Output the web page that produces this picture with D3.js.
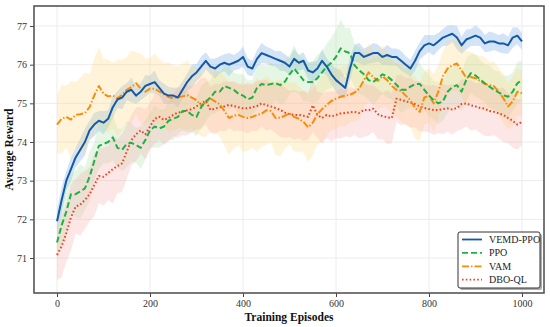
<!DOCTYPE html>
<html><head><meta charset="utf-8">
<script src="https://cdn.jsdelivr.net/npm/d3@7/dist/d3.min.js"></script>
<style>body{margin:0;background:#fff}svg{display:block}</style>
</head><body>
<svg id="c" width="550" height="327"></svg>
<script>
const episodes = d3.range(0, 1001, 10);
const xTicks = [0, 200, 400, 600, 800, 1000];
const yTicks = [71, 72, 73, 74, 75, 76, 77];
const seriesNames = ["VEMD-PPO", "PPO", "VAM", "DBO-QL"];

const vemdPPO = [71.95,72.5,73.0,73.3,73.6,73.8,74.0,74.3,74.45,74.55,74.5,74.6,74.9,75.1,75.15,75.3,75.35,75.2,75.3,75.45,
75.5,75.55,75.4,75.25,75.2,75.2,75.15,75.35,75.55,75.7,75.8,75.95,76.1,75.95,75.9,76.0,76.05,76.0,76.05,76.1,
76.2,75.95,75.9,76.15,76.3,76.25,76.2,76.15,76.1,76.05,75.95,76.15,76.05,76.1,75.85,75.8,75.9,76.1,75.95,75.75,
75.6,75.5,75.4,75.9,76.3,76.3,76.2,76.25,76.3,76.3,76.2,76.25,76.2,76.2,76.1,76.0,75.9,76.1,76.35,76.5,
76.55,76.5,76.6,76.7,76.75,76.8,76.7,76.5,76.65,76.7,76.75,76.7,76.55,76.6,76.6,76.55,76.55,76.5,76.7,76.75,76.6];
const ppo = [71.4,71.85,72.2,72.65,72.65,72.72,72.8,73.1,73.5,73.9,73.95,74.0,74.12,73.85,73.8,73.95,73.98,73.92,73.85,74.05,
74.3,74.4,74.35,74.4,74.55,74.6,74.65,74.8,74.8,74.7,74.65,74.9,75.05,75.15,75.3,75.3,75.45,75.4,75.35,75.25,
75.2,75.1,75.15,75.4,75.5,75.47,75.5,75.52,75.47,75.56,75.75,75.9,75.75,75.6,75.55,75.55,75.65,75.8,75.95,76.05,
76.2,76.42,76.34,76.3,75.98,75.85,75.75,75.6,75.55,75.65,75.75,75.7,75.6,75.48,75.35,75.35,75.43,75.5,75.5,75.35,
75.2,75.08,75.0,75.05,75.3,75.42,75.47,75.3,75.6,75.78,75.72,75.62,75.52,75.43,75.35,75.28,75.21,75.17,75.3,75.52,75.6];
const vam = [74.45,74.6,74.65,74.58,74.7,74.72,74.75,74.9,75.2,75.45,75.25,75.18,75.2,75.13,75.22,75.35,75.42,75.52,75.38,75.3,
75.38,75.38,75.3,75.24,75.16,75.13,75.16,75.18,75.21,75.15,75.08,74.95,75.03,75.12,75.05,74.98,74.8,74.62,74.68,74.7,
74.65,74.62,74.65,74.7,74.73,74.82,74.8,74.62,74.63,74.68,74.74,74.65,74.6,74.52,74.38,74.5,74.72,74.85,74.96,75.06,
75.12,75.17,75.2,75.22,75.28,75.38,75.6,75.8,75.68,75.58,75.7,75.6,75.45,75.35,75.32,75.2,75.08,74.88,74.78,75.15,
75.2,75.0,75.3,75.7,75.9,75.98,76.03,75.85,75.66,75.68,75.65,75.58,75.5,75.47,75.44,75.3,75.13,74.92,75.05,75.3,75.26];
const dboQL = [71.08,71.3,71.65,72.05,72.33,72.38,72.5,72.65,72.88,73.12,73.1,73.2,73.3,73.38,73.45,73.75,74.05,74.2,74.3,74.2,
74.4,74.6,74.65,74.57,74.62,74.7,74.76,74.78,74.82,74.85,74.92,75.0,75.06,74.83,74.86,74.9,74.92,74.96,74.93,74.9,
74.87,74.87,74.9,74.93,75.0,74.95,74.92,74.88,74.83,74.76,74.72,74.7,74.7,74.68,74.65,74.95,74.7,74.62,74.7,74.66,
74.7,74.74,74.75,74.77,74.78,74.75,74.83,74.82,74.86,74.72,74.67,74.64,74.62,75.12,75.09,75.05,75.02,74.98,74.92,74.88,
74.85,74.83,74.83,74.85,74.87,74.84,74.88,74.98,75.0,74.95,74.92,74.88,74.86,74.8,74.78,74.74,74.7,74.62,74.55,74.45,74.52];

// half-width of the light noise band around each curve
const vemdSpread = [0.3,0.35,0.25,0.3,0.25,0.3,0.35,0.25,0.3,0.25,0.3,0.22,0.28,0.22,0.3,0.22,0.32,0.22,0.22,0.28,
0.22,0.3,0.2,0.26,0.22,0.2,0.26,0.22,0.22,0.3,0.22,0.26,0.22,0.2,0.26,0.22,0.22,0.3,0.2,0.22,
0.26,0.22,0.2,0.22,0.26,0.22,0.22,0.2,0.26,0.22,0.22,0.26,0.2,0.22,0.22,0.26,0.22,0.3,0.22,0.26,
0.3,0.35,0.26,0.3,0.22,0.26,0.22,0.22,0.26,0.22,0.2,0.26,0.22,0.22,0.26,0.22,0.22,0.26,0.22,0.26,
0.22,0.26,0.22,0.22,0.26,0.22,0.3,0.22,0.26,0.22,0.26,0.22,0.22,0.26,0.22,0.22,0.26,0.22,0.26,0.22,0.22];
const ppoSpread = [0.4,0.5,0.65,0.5,0.6,0.7,0.55,0.65,0.5,0.6,0.5,0.55,0.6,0.5,0.55,0.6,0.5,0.45,0.55,0.5,
0.45,0.55,0.5,0.45,0.5,0.55,0.45,0.5,0.55,0.45,0.5,0.55,0.5,0.45,0.55,0.5,0.5,0.55,0.45,0.5,
0.55,0.5,0.45,0.55,0.5,0.5,0.55,0.45,0.5,0.55,0.5,0.6,0.5,0.55,0.5,0.55,0.6,0.55,0.6,0.65,
0.7,0.75,0.6,0.65,0.55,0.6,0.55,0.5,0.6,0.55,0.5,0.55,0.5,0.55,0.6,0.5,0.55,0.5,0.55,0.5,
0.55,0.5,0.55,0.5,0.55,0.5,0.55,0.5,0.55,0.5,0.55,0.5,0.5,0.55,0.5,0.55,0.5,0.55,0.5,0.55,0.5];
const vamSpread = [0.75,0.9,0.8,1.0,0.85,0.95,1.05,0.85,0.95,1.0,0.9,0.95,0.85,1.0,0.9,0.85,0.95,0.8,0.9,0.85,
0.8,0.9,0.85,0.8,0.9,0.85,0.8,0.85,0.9,0.8,0.85,0.8,0.9,0.85,0.8,0.85,0.9,0.95,0.85,0.8,
0.9,0.85,0.8,0.95,0.85,0.9,0.8,0.95,1.0,0.85,0.8,0.9,0.85,0.8,0.9,0.85,0.8,0.85,0.8,0.75,
0.8,0.75,0.8,0.7,0.75,0.8,0.7,0.75,0.7,0.75,0.8,0.7,0.75,0.7,0.8,0.75,0.7,0.8,0.75,0.7,
0.7,0.75,0.7,0.65,0.7,0.65,0.7,0.65,0.7,0.65,0.6,0.65,0.7,0.6,0.65,0.6,0.65,0.6,0.65,0.6,0.6];
const dboSpread = [0.65,0.8,0.75,0.85,0.7,0.8,0.75,0.7,0.8,0.7,0.75,0.7,0.9,0.7,0.75,0.7,0.65,0.7,0.6,0.65,
0.6,0.65,0.6,0.65,0.6,0.55,0.65,0.6,0.65,0.6,0.6,0.65,0.6,0.6,0.65,0.6,0.65,0.6,0.65,0.6,
0.6,0.65,0.6,0.65,0.6,0.65,0.6,0.65,0.7,0.65,0.6,0.65,0.6,0.65,0.6,0.7,0.6,0.65,0.6,0.65,
0.6,0.65,0.6,0.65,0.6,0.65,0.7,0.65,0.6,0.65,0.6,0.7,0.65,0.6,0.65,0.6,0.65,0.6,0.65,0.6,
0.6,0.65,0.6,0.65,0.6,0.65,0.6,0.65,0.6,0.65,0.6,0.65,0.7,0.65,0.6,0.65,0.7,0.65,0.7,0.65,0.6];

const series = [
  {name: seriesNames[0], vals: vemdPPO, spread: vemdSpread, color: "#1459a6", band: "#8fbce6", bandOp: 0.4, dash: null},
  {name: seriesNames[1], vals: ppo, spread: ppoSpread, color: "#1fb143", band: "#a6e0a2", bandOp: 0.28, dash: "6,3"},
  {name: seriesNames[2], vals: vam, spread: vamSpread, color: "#fa8c0a", band: "#ffd97a", bandOp: 0.28, dash: "7,2,1.5,2"},
  {name: seriesNames[3], vals: dboQL, spread: dboSpread, color: "#f2401f", band: "#f7aaa7", bandOp: 0.28, dash: "1.6,2.2"}
];

const svg = d3.select("#c");
const L = 34, T = 6, R = 544, B = 293;
const x = d3.scaleLinear().domain([-49.5, 1047.3]).range([L, R]);
const y = d3.scaleLinear().domain([70.095, 77.517]).range([B, T]);

// grid
const g = svg.append("g");
g.selectAll(".gx").data(xTicks).join("line")
  .attr("x1", d => x(d)).attr("x2", d => x(d)).attr("y1", T).attr("y2", B)
  .attr("stroke", "#ececec").attr("stroke-width", 1);
g.selectAll(".gy").data(yTicks).join("line")
  .attr("x1", L).attr("x2", R).attr("y1", d => y(d)).attr("y2", d => y(d))
  .attr("stroke", "#ececec").attr("stroke-width", 1);

// bands
const plot = svg.append("g");
series.forEach(s => {
  const area = d3.area()
    .x((d, i) => x(episodes[i]))
    .y0((d, i) => y(d - s.spread[i]))
    .y1((d, i) => y(d + s.spread[i]));
  plot.append("path").attr("d", area(s.vals))
    .attr("fill", s.band).attr("fill-opacity", s.bandOp).attr("stroke", "none");
});
// lines (draw bottom to top: red, orange, green, blue)
[3, 2, 1, 0].forEach(k => {
  const s = series[k];
  const line = d3.line().x((d, i) => x(episodes[i])).y(d => y(d));
  const p = plot.append("path").attr("d", line(s.vals))
    .attr("fill", "none").attr("stroke", s.color).attr("stroke-width", 2)
    .attr("stroke-linejoin", "round");
  if (s.dash) p.attr("stroke-dasharray", s.dash);
});

// axes
const xAxis = svg.append("g").attr("transform", `translate(0,${B})`)
  .call(d3.axisBottom(x).tickValues(xTicks).tickSize(4).tickPadding(3).tickFormat(d3.format("d")));
const yAxis = svg.append("g").attr("transform", `translate(${L},0)`)
  .call(d3.axisLeft(y).tickValues(yTicks).tickSize(4).tickPadding(3).tickFormat(d3.format("d")));
[xAxis, yAxis].forEach(a => {
  a.select(".domain").remove();
  a.selectAll("text").attr("font-family", "Liberation Serif, Times New Roman, serif")
    .attr("font-size", 10).attr("fill", "#333");
  a.selectAll("line").attr("stroke", "#444");
});

// frame
svg.append("rect").attr("x", L).attr("y", T).attr("width", R - L).attr("height", B - T)
  .attr("fill", "none").attr("stroke", "#555").attr("stroke-width", 1.6);

// axis labels
svg.append("text").attr("x", (L + R) / 2).attr("y", 321).attr("text-anchor", "middle")
  .attr("font-family", "Liberation Serif, serif").attr("font-weight", "bold").attr("font-size", 11.5)
  .attr("fill", "#111").text("Training Episodes");
svg.append("text").attr("transform", `translate(13,${(T + B) / 2}) rotate(-90)`).attr("text-anchor", "middle")
  .attr("font-family", "Liberation Serif, serif").attr("font-weight", "bold").attr("font-size", 11.5)
  .attr("fill", "#111").text("Average Reward");

// legend
const lg = svg.append("g");
lg.append("rect").attr("x", 460).attr("y", 234).attr("width", 82).attr("height", 56)
  .attr("rx", 2).attr("fill", "#888").attr("opacity", 0.7);
lg.append("rect").attr("x", 458).attr("y", 232).attr("width", 82).attr("height", 56)
  .attr("rx", 2).attr("fill", "#fff").attr("stroke", "#333").attr("stroke-width", 1);
series.forEach((s, i) => {
  const yy = 239.5 + i * 13.4;
  const l = lg.append("line").attr("x1", 462).attr("x2", 482).attr("y1", yy).attr("y2", yy)
    .attr("stroke", s.color).attr("stroke-width", 1.8);
  if (s.dash) l.attr("stroke-dasharray", s.dash);
  lg.append("text").attr("x", 489).attr("y", yy + 3.5)
    .attr("font-family", "Liberation Serif, serif").attr("font-size", 10).attr("fill", "#222").text(s.name);
});
</script>
</body></html>
